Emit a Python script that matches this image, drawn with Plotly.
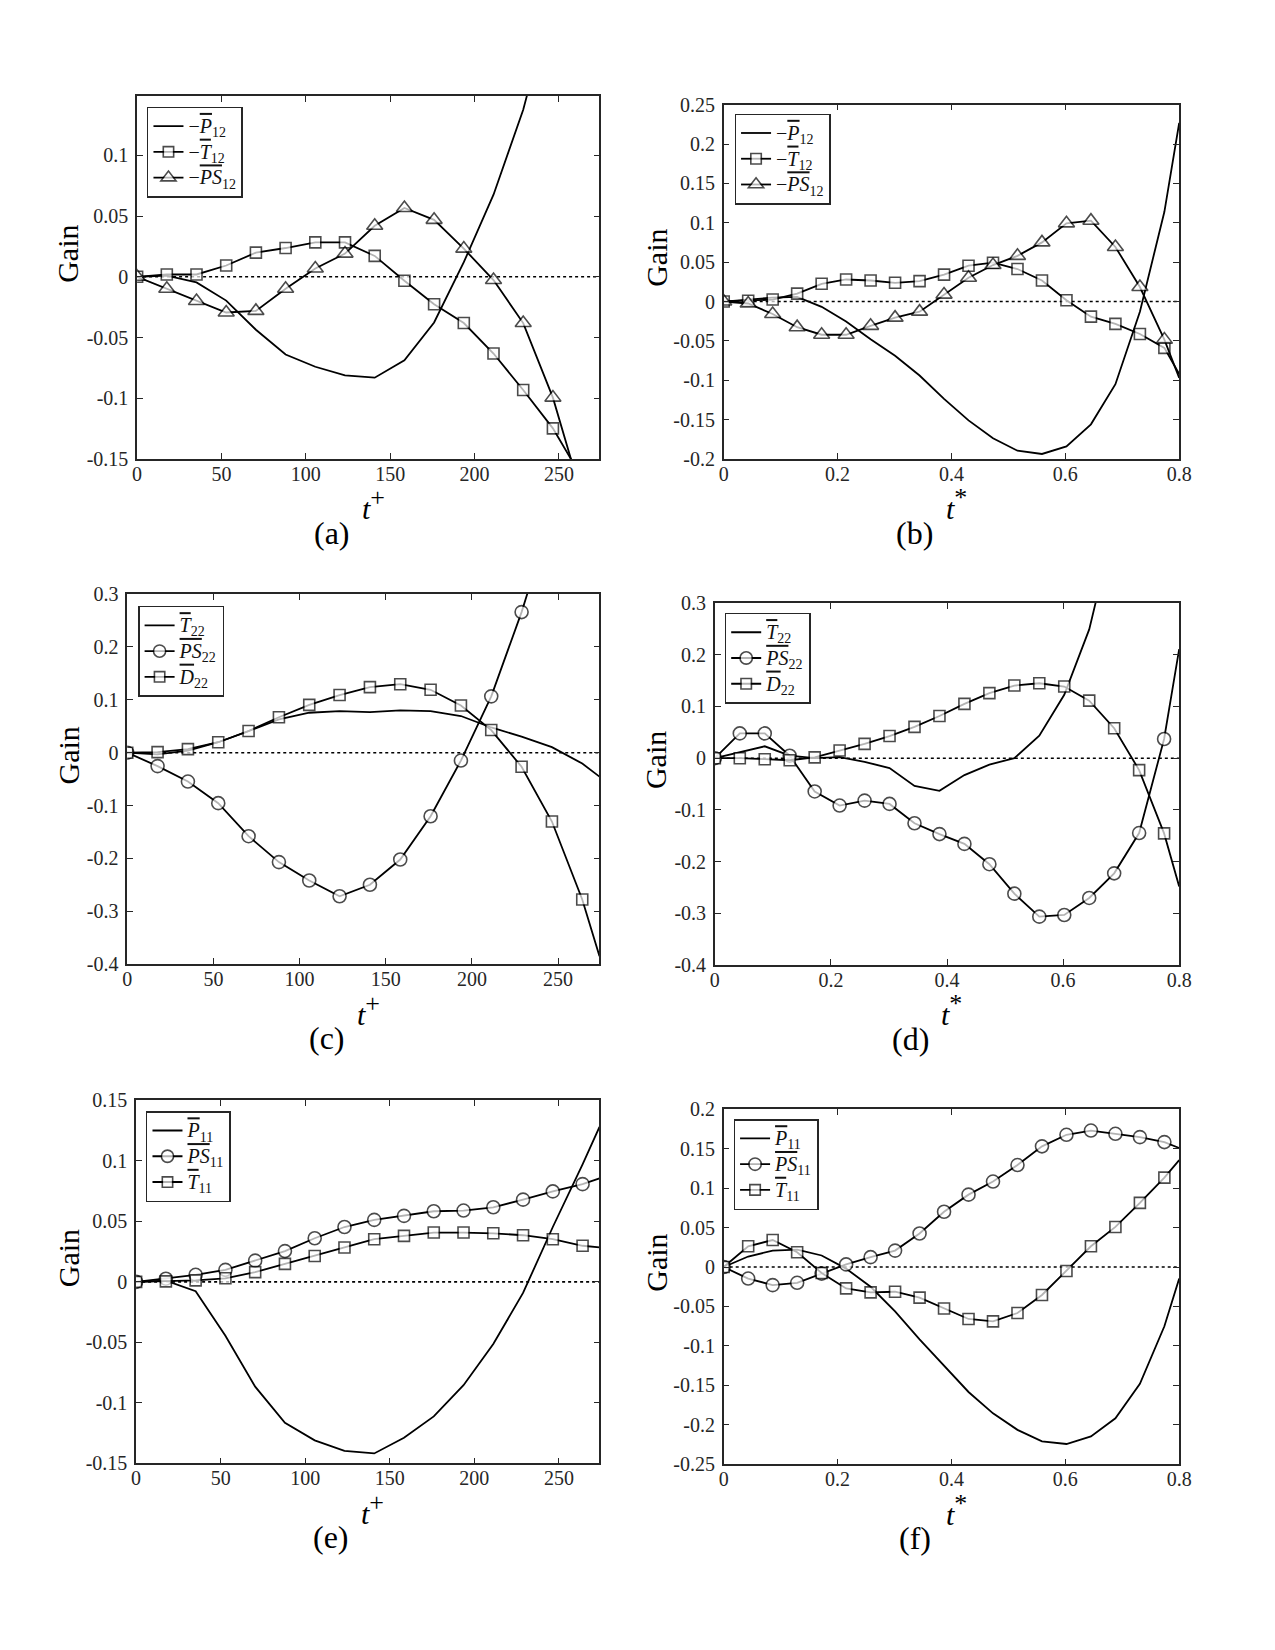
import plotly.graph_objects as go

# ---------------- data ----------------
# time grids (last entry = axis edge, no marker drawn there)
t_plus = [0, 17.6, 35.2, 52.8, 70.4, 88, 105.6, 123.2, 140.8, 158.4, 176,
          193.6, 211.2, 228.8, 246.4, 264, 274]
t_star = [0, 0.043, 0.086, 0.129, 0.172, 0.215, 0.258, 0.301, 0.344, 0.387,
          0.430, 0.473, 0.516, 0.559, 0.602, 0.645, 0.688, 0.731, 0.774, 0.8]

# (a)
a_P12 = [0, 0.001, -0.0046, -0.0196, -0.0436, -0.064, -0.0741, -0.0812, -0.0831,
         -0.0687, -0.0376, 0.012, 0.0676, 0.1376, 0.23, 0.34, 0.42]
a_T12 = [0, 0.0019, 0.0019, 0.0093, 0.0199, 0.0237, 0.0283, 0.0283, 0.0172,
         -0.0033, -0.0226, -0.0381, -0.0632, -0.0932, -0.1248, -0.1675, -0.19]
a_PS12 = [0, -0.0098, -0.0199, -0.0294, -0.0281, -0.0098, 0.0068, 0.0191, 0.042,
          0.0567, 0.0469, 0.0232, -0.0027, -0.0381, -0.0995, -0.185, -0.23]
# (b)
b_P12 = [0, 0.0025, 0.005, 0.006, -0.0067, -0.0255, -0.048, -0.069, -0.094, -0.1236,
         -0.151, -0.1737, -0.1895, -0.1937, -0.184, -0.156, -0.105, -0.013, 0.114, 0.227]
b_T12 = [0, 0.001, 0.0025, 0.010, 0.0225, 0.028, 0.0267, 0.0238, 0.0259, 0.0342,
         0.0455, 0.0493, 0.0413, 0.0267, 0.0017, -0.0192, -0.0284, -0.0413, -0.0589, -0.092]
b_PS12 = [0, -0.0025, -0.0159, -0.0326, -0.0422, -0.0422, -0.0309, -0.0205, -0.0129, 0.0088,
          0.0301, 0.0463, 0.058, 0.0751, 0.0993, 0.1027, 0.0693, 0.0184, -0.0484, -0.097]
# (c)
c_T22 = [0, -0.003, 0.004, 0.0198, 0.041, 0.0632, 0.0756, 0.0787, 0.0769, 0.08,
         0.0787, 0.0694, 0.0477, 0.0304, 0.0105, -0.0205, -0.0453]
c_PS22 = [0, -0.0254, -0.0546, -0.0955, -0.158, -0.207, -0.2418, -0.2716, -0.2499,
          -0.2021, -0.1203, -0.0149, 0.1066, 0.266, 0.45, 0.65, 0.8]
c_D22 = [0, 0.001, 0.0068, 0.0198, 0.0409, 0.067, 0.0905, 0.1091, 0.124, 0.1296,
         0.119, 0.0893, 0.0428, -0.0267, -0.1302, -0.2778, -0.385]
# (d)
d_T22 = [0, 0.012, 0.023, 0.005, 0.0, 0.002, -0.007, -0.019, -0.0535, -0.063,
         -0.0326, -0.0123, 0.0, 0.0435, 0.1225, 0.249, 0.45, 0.7, 0.95, 1.1]
d_PS22 = [0, 0.0479, 0.0479, 0.0048, -0.0643, -0.0916, -0.082, -0.0884, -0.1258, -0.1467,
          -0.1657, -0.2049, -0.2619, -0.3063, -0.3031, -0.2702, -0.2226, -0.1447, 0.0371, 0.211]
d_D22 = [0, 0.0, -0.002, -0.004, 0.0016, 0.015, 0.0276, 0.0428, 0.0606, 0.0815,
         0.105, 0.1258, 0.1404, 0.1448, 0.1385, 0.1112, 0.058, -0.0231, -0.1454, -0.248]
# (e)
e_P11 = [0, 0.001, -0.0078, -0.0445, -0.0866, -0.1165, -0.131, -0.1397, -0.1418,
         -0.1289, -0.1112, -0.0854, -0.0514, -0.0092, 0.0453, 0.097, 0.128]
e_PS11 = [0, 0.0026, 0.0058, 0.0099, 0.0175, 0.0254, 0.036, 0.0453, 0.0512, 0.0545,
          0.0583, 0.0589, 0.0616, 0.0679, 0.0747, 0.0807, 0.0855]
e_T11 = [0, 0.0004, 0.0012, 0.0029, 0.008, 0.0148, 0.0213, 0.0284, 0.0352, 0.038,
         0.0407, 0.0407, 0.0401, 0.0385, 0.0352, 0.0298, 0.0284]
# (f)
f_P11 = [0, 0.0133, 0.0208, 0.0221, 0.0146, -0.002, -0.025, -0.0563, -0.0917, -0.125,
         -0.1583, -0.1854, -0.2063, -0.2208, -0.2242, -0.2146, -0.1917, -0.1479, -0.075, -0.0146]
f_PS11 = [0, -0.0146, -0.0229, -0.02, -0.0083, 0.0033, 0.0125, 0.0208, 0.0425, 0.07,
          0.0917, 0.1083, 0.1292, 0.1529, 0.1675, 0.1729, 0.1688, 0.1646, 0.1583, 0.1508]
f_T11 = [0, 0.0263, 0.0342, 0.0188, -0.0075, -0.0271, -0.0321, -0.0313, -0.0388, -0.0525,
         -0.0658, -0.0688, -0.0583, -0.0354, -0.005, 0.0263, 0.0508, 0.0813, 0.1133, 0.1354]

# tick labels
xt_plus = [0, 50, 100, 150, 200, 250]
xt_plus_txt = ['0', '50', '100', '150', '200', '250']
xt_star = [0, 0.2, 0.4, 0.6, 0.8]
xt_star_txt = ['0', '0.2', '0.4', '0.6', '0.8']
yt_a = [-0.15, -0.1, -0.05, 0, 0.05, 0.1]
yt_a_txt = ['-0.15', '-0.1', '-0.05', '0', '0.05', '0.1']
yt_b = [-0.2, -0.15, -0.1, -0.05, 0, 0.05, 0.1, 0.15, 0.2, 0.25]
yt_b_txt = ['-0.2', '-0.15', '-0.1', '-0.05', '0', '0.05', '0.1', '0.15', '0.2', '0.25']
yt_cd = [-0.4, -0.3, -0.2, -0.1, 0, 0.1, 0.2, 0.3]
yt_cd_txt = ['-0.4', '-0.3', '-0.2', '-0.1', '0', '0.1', '0.2', '0.3']
yt_e = [-0.15, -0.1, -0.05, 0, 0.05, 0.1, 0.15]
yt_e_txt = ['-0.15', '-0.1', '-0.05', '0', '0.05', '0.1', '0.15']
yt_f = [-0.25, -0.2, -0.15, -0.1, -0.05, 0, 0.05, 0.1, 0.15, 0.2]
yt_f_txt = ['-0.25', '-0.2', '-0.15', '-0.1', '-0.05', '0', '0.05', '0.1', '0.15', '0.2']

# ---------------- styling helpers ----------------
W, H = 1275, 1650
FONT = 'Liberation Serif'
AX = '#262626'


def ov(s):
    return "<span style='text-decoration:overline'>" + s + "</span>"


def leg(txt):
    # slightly larger glyphs than the legend row height implies
    return "<span style='font-size:20px'>" + txt + "</span>"


def xlab(sym):
    return "<i>t</i><sup><span style='font-size:26px'>" + sym + "</span></sup>"


def px_x(v):
    return v / W


def px_y(v):
    return 1 - v / H


# panel boxes in pixels: left, right, top, bottom
panels = [
    dict(tag='(a)', x=t_plus, xr=[0, 274], xt=xt_plus, xtt=xt_plus_txt, xl=xlab('+'),
         box=(134, 603, 86, 454), yr=[-0.15, 0.149], yt=yt_a, ytt=yt_a_txt,
         series=[('−<i>' + ov('P') + '</i><sub>12</sub>', a_P12, None),
                 ('−<i>' + ov('T') + '</i><sub>12</sub>', a_T12, 'square'),
                 ('−<i>' + ov('PS') + '</i><sub>12</sub>', a_PS12, 'triangle-up')],
         leg=(144, 97)),
    dict(tag='(b)', x=t_star, xr=[0, 0.8], xt=xt_star, xtt=xt_star_txt, xl=xlab('*'),
         box=(729, 1191, 95, 454), yr=[-0.2, 0.25], yt=yt_b, ytt=yt_b_txt,
         series=[('−<i>' + ov('P') + '</i><sub>12</sub>', b_P12, None),
                 ('−<i>' + ov('T') + '</i><sub>12</sub>', b_T12, 'square'),
                 ('−<i>' + ov('PS') + '</i><sub>12</sub>', b_PS12, 'triangle-up')],
         leg=(740, 104)),
    dict(tag='(c)', x=t_plus, xr=[0, 274], xt=xt_plus, xtt=xt_plus_txt, xl=xlab('+'),
         box=(124, 603, 591, 966), yr=[-0.4, 0.3], yt=yt_cd, ytt=yt_cd_txt,
         series=[('<i>' + ov('T') + '</i><sub>22</sub>', c_T22, None),
                 ('<i>' + ov('PS') + '</i><sub>22</sub>', c_PS22, 'circle'),
                 ('<i>' + ov('D') + '</i><sub>22</sub>', c_D22, 'square')],
         leg=(135, 603)),
    dict(tag='(d)', x=t_star, xr=[0, 0.8], xt=xt_star, xtt=xt_star_txt, xl=xlab('*'),
         box=(720, 1191, 600, 967), yr=[-0.4, 0.3], yt=yt_cd, ytt=yt_cd_txt,
         series=[('<i>' + ov('T') + '</i><sub>22</sub>', d_T22, None),
                 ('<i>' + ov('PS') + '</i><sub>22</sub>', d_PS22, 'circle'),
                 ('<i>' + ov('D') + '</i><sub>22</sub>', d_D22, 'square')],
         leg=(730, 610)),
    dict(tag='(e)', x=t_plus, xr=[0, 274], xt=xt_plus, xtt=xt_plus_txt, xl=xlab('+'),
         box=(133, 603, 1104, 1472), yr=[-0.15, 0.15], yt=yt_e, ytt=yt_e_txt,
         series=[('<i>' + ov('P') + '</i><sub>11</sub>', e_P11, None),
                 ('<i>' + ov('PS') + '</i><sub>11</sub>', e_PS11, 'circle'),
                 ('<i>' + ov('T') + '</i><sub>11</sub>', e_T11, 'square')],
         leg=(143, 1115)),
    dict(tag='(f)', x=t_star, xr=[0, 0.8], xt=xt_star, xtt=xt_star_txt, xl=xlab('*'),
         box=(729, 1191, 1113, 1473), yr=[-0.25, 0.2], yt=yt_f, ytt=yt_f_txt,
         series=[('<i>' + ov('P') + '</i><sub>11</sub>', f_P11, None),
                 ('<i>' + ov('PS') + '</i><sub>11</sub>', f_PS11, 'circle'),
                 ('<i>' + ov('T') + '</i><sub>11</sub>', f_T11, 'square')],
         leg=(739, 1123)),
]

MSIZE = {'square': 11, 'triangle-up': 14, 'circle': 13}
LW = 1.8

fig = go.Figure()
layout = dict(width=W, height=H, margin=dict(l=0, r=0, t=0, b=0),
              paper_bgcolor='white', plot_bgcolor='white',
              font=dict(family=FONT, color=AX), showlegend=True,
              shapes=[], annotations=[])

for i, p in enumerate(panels, start=1):
    xa = 'x' if i == 1 else f'x{i}'
    ya = 'y' if i == 1 else f'y{i}'
    lg = 'legend' if i == 1 else f'legend{i}'
    L, R, T, B = p['box']
    for name, ys, sym in p['series']:
        n = len(ys)
        if sym is None:
            tr = go.Scatter(x=p['x'], y=ys, mode='lines', name=leg(name),
                            line=dict(color='black', width=LW))
        else:
            sizes = [MSIZE[sym]] * (n - 1) + [0]
            tr = go.Scatter(x=p['x'], y=ys, mode='lines+markers', name=leg(name),
                            line=dict(color='black', width=LW),
                            marker=dict(symbol=sym, size=sizes, color='white',
                                        line=dict(color='black', width=1.6)))
        tr.update(xaxis=xa, yaxis=ya, legend=lg)
        fig.add_trace(tr)

    axcommon = dict(showline=True, linecolor=AX, linewidth=1.5, mirror='ticks',
                    ticks='inside', ticklen=6, tickwidth=1.2, tickcolor=AX,
                    showgrid=False, zeroline=False,
                    tickfont=dict(family=FONT, size=20, color=AX))
    layout['xaxis' if i == 1 else f'xaxis{i}'] = dict(
        axcommon, domain=[px_x(L), px_x(R)], range=p['xr'], tickmode='array',
        tickvals=p['xt'], ticktext=p['xtt'], anchor=ya, ticklabelstandoff=-4)
    layout['yaxis' if i == 1 else f'yaxis{i}'] = dict(
        axcommon, domain=[px_y(B), px_y(T)], range=p['yr'], tickmode='array',
        tickvals=p['yt'], ticktext=p['ytt'], anchor=xa, ticklabelstandoff=3)

    layout[lg] = dict(x=px_x(p['leg'][0]), y=px_y(p['leg'][1]), xanchor='left', yanchor='top',
                      xref='paper', yref='paper', bgcolor='white', bordercolor=AX,
                      borderwidth=1.5, font=dict(family=FONT, size=17.5, color='#111111'),
                      itemwidth=30, tracegroupgap=0)

    # dotted zero line
    layout['shapes'].append(dict(type='line', xref=f'{xa} domain', yref=ya, x0=0, x1=1,
                                 y0=0, y1=0, layer='below',
                                 line=dict(color='black', width=1.6, dash='dot')))
    cx = (L + R) / 2
    # y label
    gx = 64 if L < 400 else 660
    layout['annotations'].append(dict(text='Gain', textangle=-90, xref='paper', yref='paper',
                                      x=px_x(gx), y=px_y((T + B) / 2 - 24), showarrow=False,
                                      xanchor='center', yanchor='middle',
                                      font=dict(family=FONT, size=30, color='black')))
    # x label
    layout['annotations'].append(dict(text=p['xl'], xref='paper', yref='paper',
                                      x=px_x(cx + 5), y=px_y(B + 46), showarrow=False,
                                      xanchor='center', yanchor='middle',
                                      font=dict(family=FONT, size=30, color='black')))
    # caption
    layout['annotations'].append(dict(text=p['tag'], xref='paper', yref='paper',
                                      x=px_x(cx - 37), y=px_y(B + 75), showarrow=False,
                                      xanchor='center', yanchor='middle',
                                      font=dict(family=FONT, size=32, color='black')))

fig.update_layout(**layout)
fig.write_html('out.html')
